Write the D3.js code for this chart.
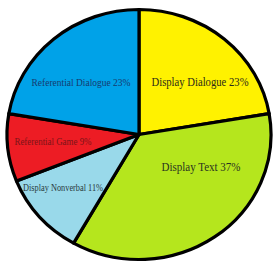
<!DOCTYPE html>
<html>
<head>
<meta charset="utf-8">
<script src="https://cdn.jsdelivr.net/npm/d3@7/dist/d3.min.js"></script>
<style>
  html, body { margin: 0; padding: 0; background: #fff; }
  svg { display: block; }
</style>
</head>
<body>
<script>
// ---- data ----
const categories = ["Display Dialogue", "Display Text", "Display Nonverbal", "Referential Game", "Referential Dialogue"];
const values = [23, 37, 11, 9, 23];
const labels = ["Display Dialogue 23%", "Display Text 37%", "Display Nonverbal 11%", "Referential Game 9%", "Referential Dialogue 23%"];

// ---- style / layout ----
const colors = ["#FFF200", "#B5E61D", "#99D9EA", "#ED1C24", "#00A2E8"];
const textColors = ["#2b2b1a", "#2a3320", "#2a3a40", "#7a1418", "#173a6e"];
const labelLayout = [ // [center x, baseline y, font size, text width]
  [200, 86, 12, 97],
  [201, 171, 12, 79],
  [63, 191, 10, 80],
  [53, 145, 9.5, 77],
  [81, 86, 10.5, 99]
];

const W = 274, H = 262;
const cx = 139, cy = 134.5, rx = 132, ry = 125;

const svg = d3.select("body").append("svg").attr("width", W).attr("height", H);

const pie = d3.pie().sort(null).value(d => d).startAngle(0).endAngle(2 * Math.PI);
const arcs = pie(values);
const arc = d3.arc().innerRadius(0).outerRadius(ry);

const g = svg.append("g").attr("transform", `translate(${cx},${cy}) scale(${rx / ry},1)`);

g.selectAll("path.slice")
  .data(arcs)
  .join("path")
  .attr("class", "slice")
  .attr("d", arc)
  .attr("fill", (d, i) => colors[i])
  .attr("stroke", "#000")
  .attr("stroke-width", 3.2)
  .attr("stroke-linejoin", "round")
  .attr("vector-effect", "non-scaling-stroke");

svg.selectAll("text.lbl")
  .data(labels)
  .join("text")
  .attr("class", "lbl")
  .attr("x", (d, i) => labelLayout[i][0])
  .attr("y", (d, i) => labelLayout[i][1])
  .attr("text-anchor", "middle")
  .attr("font-family", "'Liberation Serif', 'Times New Roman', serif")
  .attr("font-size", (d, i) => labelLayout[i][2])
  .attr("textLength", (d, i) => labelLayout[i][3])
  .attr("lengthAdjust", "spacingAndGlyphs")
  .attr("fill", (d, i) => textColors[i])
  .text(d => d);
</script>
</body>
</html>
